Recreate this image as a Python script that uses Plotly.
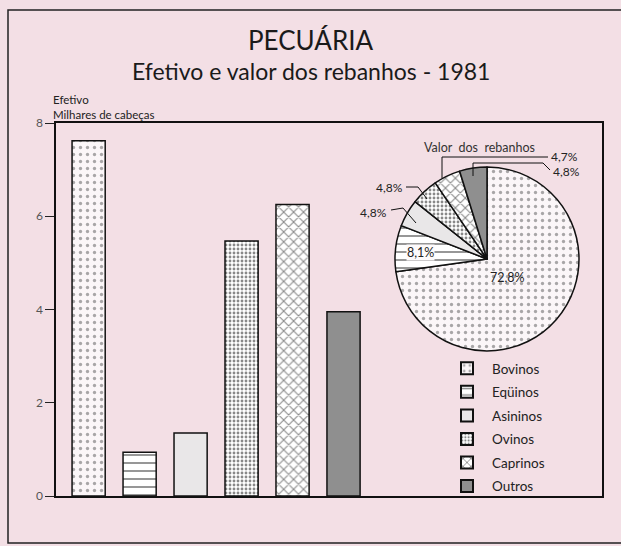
import plotly.graph_objects as go

# ---- data ----
categories = ["Bovinos", "Eqüinos", "Asininos", "Ovinos", "Caprinos", "Outros"]
efetivo = [7.62, 0.94, 1.35, 5.47, 6.25, 3.95]          # milhares de cabeças
valor_pct = [72.8, 8.1, 4.8, 4.8, 4.7, 4.8]              # % valor dos rebanhos
y_ticks = [0, 2, 4, 6, 8]

# ---- styles ----
fill_colors = ["#fbf6f8", "#ffffff", "#e9e7e8", "#ffffff", "#ffffff", "#8f8f8f"]
pat_shape = [".", "-", "", ".", "x", ""]
pat_size = [7, 8, 6, 4, 7, 6]
pat_sol = [0.18, 0.22, 0.2, 0.4, 0.28, 0.2]
pat_fg = ["#555555", "#111111", "#111111", "#111111", "#111111", "#111111"]

BG = "#f3dfe5"
FONT = "Lato"

# pixel -> paper helpers (plot area l=56, r=602, t=123, b=496)
L, R, T, B = 56, 602, 123, 496
W, H = R - L, B - T
def px(x): return (x - L) / W
def py(y): return (B - y) / H

fig = go.Figure()

for i, c in enumerate(categories):
    fig.add_trace(go.Bar(
        x=[c], y=[efetivo[i]], name=c, width=0.65, legendgroup=c,
        marker=dict(
            color=fill_colors[i],
            line=dict(color="#111111", width=1.5),
            pattern=dict(shape=pat_shape[i], size=pat_size[i], solidity=pat_sol[i],
                         fgcolor=pat_fg[i], bgcolor=fill_colors[i], fillmode="overlay"),
        ),
        hoverinfo="skip",
    ))

fig.add_trace(go.Pie(
    labels=categories, values=valor_pct, sort=False, direction="clockwise", rotation=0,
    domain=dict(x=[px(395), px(579)], y=[py(351), py(167)]),
    marker=dict(
        colors=fill_colors,
        line=dict(color="#111111", width=1.5),
        pattern=dict(shape=pat_shape, size=pat_size, solidity=pat_sol, fgcolor=pat_fg,
                     bgcolor=fill_colors, fillmode="overlay"),
    ),
    textinfo="none", showlegend=False, hoverinfo="skip",
))

def fmt(v):
    return f"{v:.1f}%".replace(".", ",")

annotations = [
    dict(text="PECUÁRIA", x=px(310), y=py(40), font=dict(size=26, color="#1a1a1a")),
    dict(text="Efetivo e valor dos rebanhos - 1981", x=px(311), y=py(71),
         font=dict(size=23, color="#1a1a1a")),
    dict(text="Efetivo<br>Milhares de cabeças", x=px(51), y=py(107), xanchor="left",
         align="left", font=dict(size=11.5, color="#222222")),
    dict(text="Valor  dos  rebanhos", x=px(479), y=py(147), font=dict(size=12.5, color="#333333")),
    dict(text=fmt(valor_pct[0]), x=px(507), y=py(277), font=dict(size=12.5, color="#222222")),
    dict(text=fmt(valor_pct[1]), x=px(420), y=py(252), font=dict(size=12.5, color="#222222"),
         bgcolor="#fdfafb", borderpad=0),
    dict(text=fmt(valor_pct[2]), x=px(373), y=py(212), font=dict(size=12, color="#222222")),
    dict(text=fmt(valor_pct[3]), x=px(389), y=py(187), font=dict(size=12, color="#222222")),
    dict(text=fmt(valor_pct[4]), x=px(564), y=py(157), font=dict(size=12, color="#222222")),
    dict(text=fmt(valor_pct[5]), x=px(566), y=py(171), font=dict(size=12, color="#222222")),
]
for a in annotations:
    a.setdefault("xanchor", "center")
    a.update(xref="paper", yref="paper", showarrow=False, yanchor="middle")
    a["font"].setdefault("family", FONT)

def path(points):
    s = "M " + " L ".join(f"{px(x)},{py(y)}" for x, y in points)
    return dict(type="path", xref="paper", yref="paper", path=s,
                line=dict(color="#111111", width=1))

shapes = [
    dict(type="rect", xref="paper", yref="paper", x0=px(8), x1=px(640), y0=py(543), y1=py(10),
         line=dict(color="#222222", width=1.5), layer="below"),
    path([(391, 210), (403, 208), (416, 223)]),
    path([(406, 187), (418, 187), (427, 199)]),
    path([(548, 157), (442, 157), (442, 178)]),
    path([(550, 170), (543, 163), (473, 163), (473, 176)]),
]

fig.update_layout(
    width=621, height=546,
    margin=dict(l=L, r=621 - R, t=T, b=546 - B),
    paper_bgcolor=BG, plot_bgcolor=BG,
    barmode="overlay", separators=",.",
    font=dict(family=FONT, color="#222222"),
    showlegend=True,
    legend=dict(x=px(442), y=py(353), xanchor="left", yanchor="top",
                bgcolor="rgba(0,0,0,0)", font=dict(size=13.5, color="#222222"),
                itemsizing="constant", itemwidth=40, tracegroupgap=3,
                traceorder="grouped"),
    annotations=annotations, shapes=shapes,
    xaxis=dict(type="category", range=[-0.64, 10.07], showticklabels=False, ticks="",
               showgrid=False, zeroline=False, showline=True, linecolor="#111111",
               linewidth=1.5, mirror=True, fixedrange=True),
    yaxis=dict(range=[0, 8], tickvals=y_ticks, ticks="outside", ticklen=9, tickwidth=1.2,
               tickcolor="#222222", showgrid=False, zeroline=False, showline=True,
               linecolor="#111111", linewidth=1.5, mirror=True, fixedrange=True,
               tickfont=dict(size=12, color="#555555", family=FONT)),
)

fig.write_html("out.html", config={"displayModeBar": False},
               post_script="document.body.style.margin='0';document.body.style.overflow='hidden';")
